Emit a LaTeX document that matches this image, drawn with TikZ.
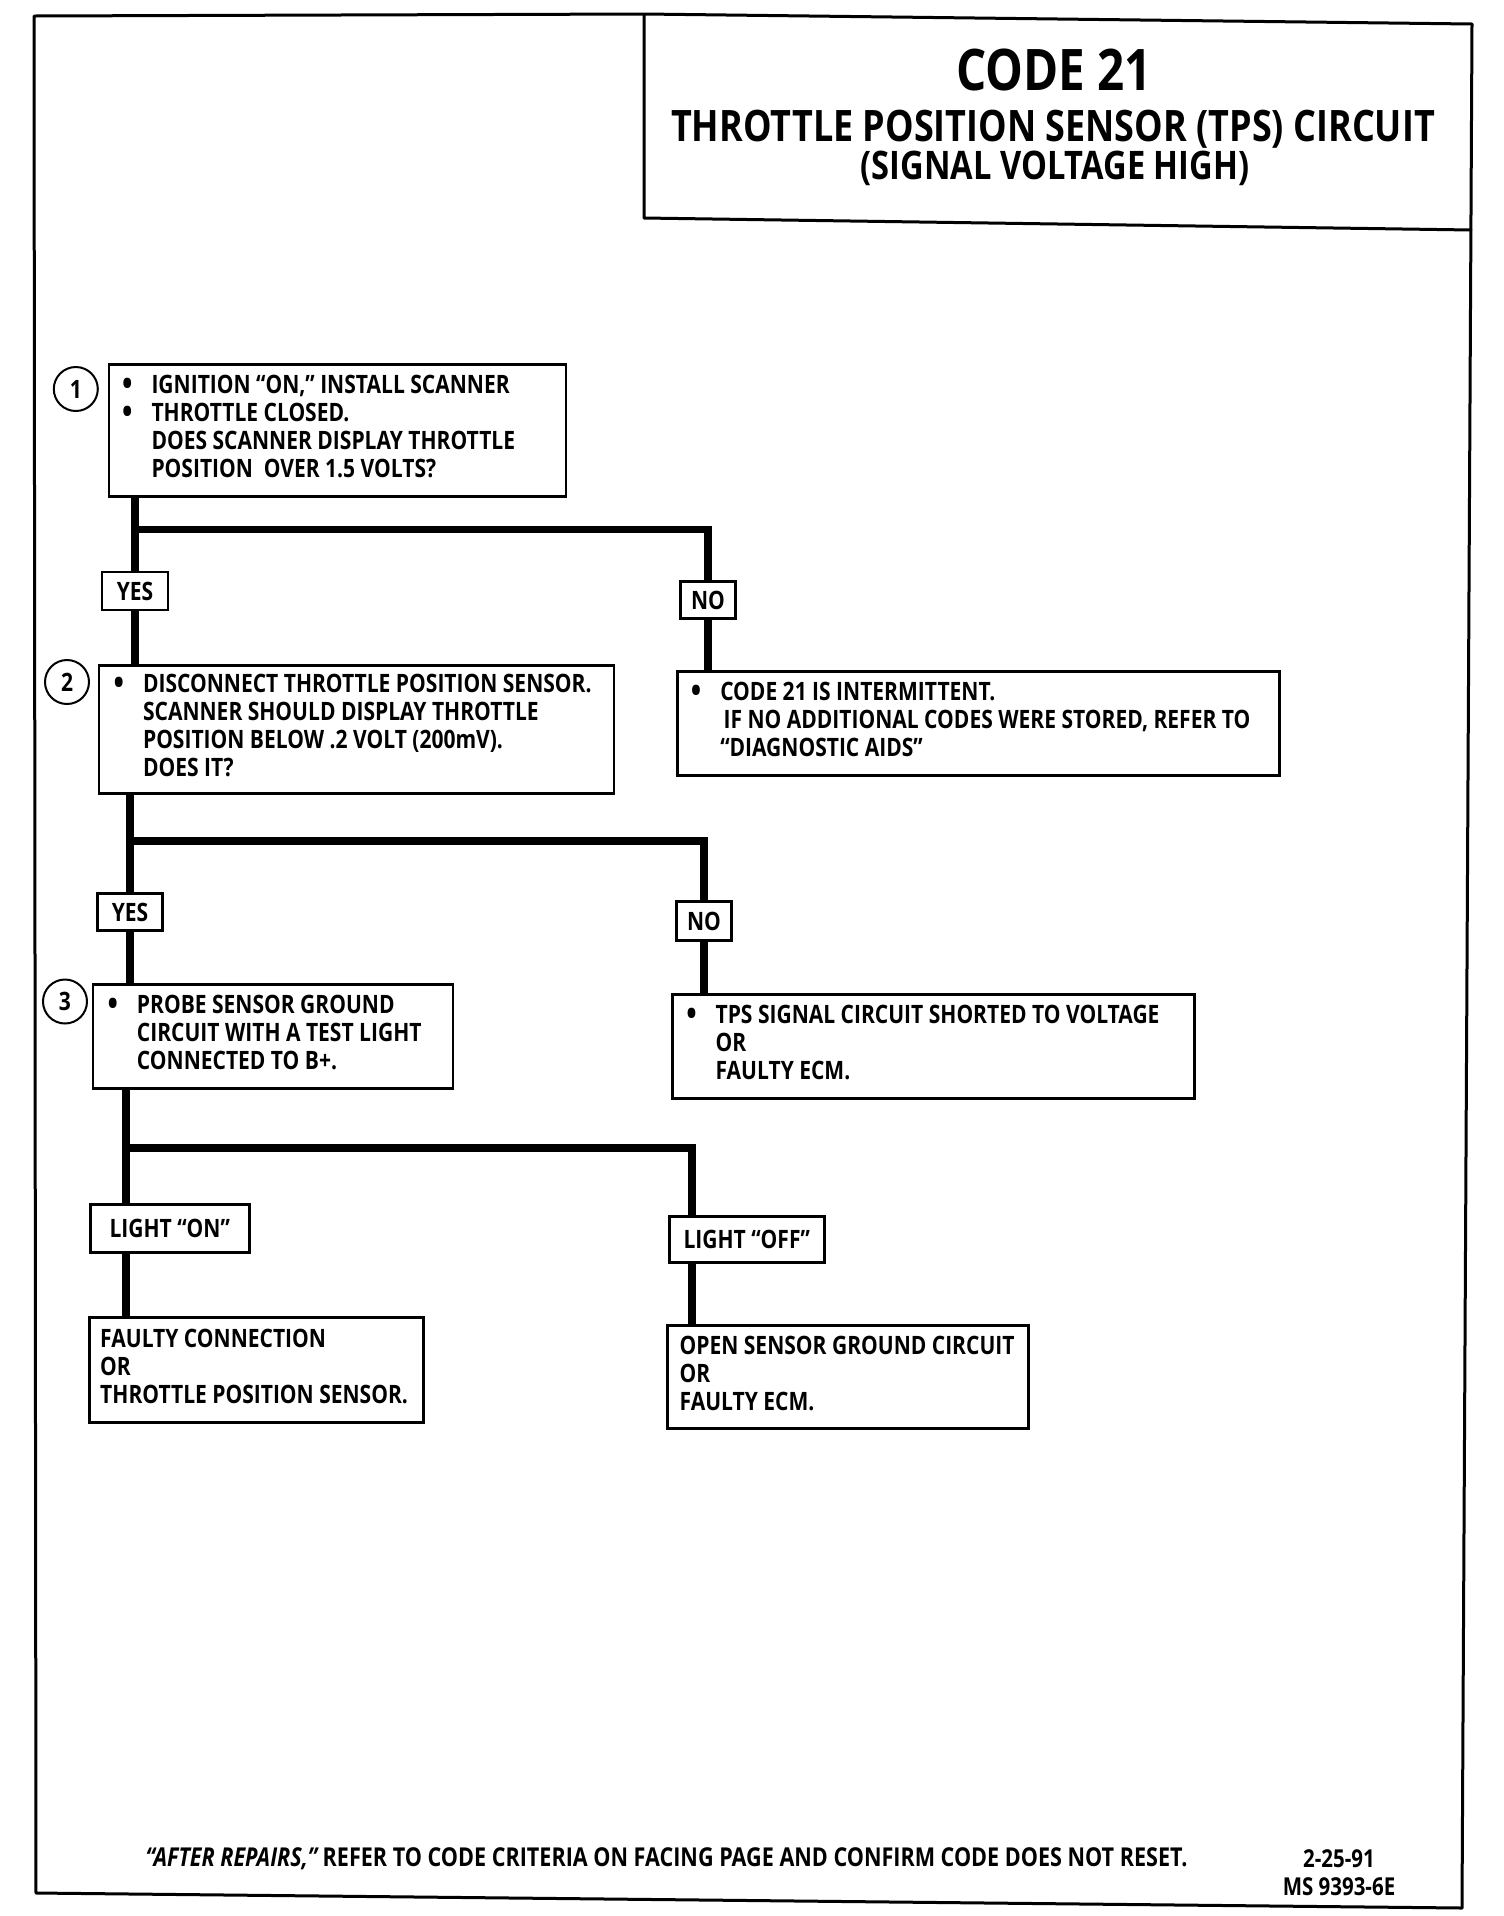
\documentclass[tikz,border=0pt]{standalone}
\usepackage{fontspec}
\setmainfont{Open Sans}[FakeStretch=0.83]
\newlength{\bulw}
\setlength{\bulw}{8.8pt}
\newcommand{\bul}{\makebox[\bulw][l]{\raisebox{-0.6pt}{\fontsize{10}{8}\selectfont\textbullet}}}
\newcommand{\ind}{\hspace*{\bulw}}
\newcommand{\boxtext}[2]{\makebox[#1][l]{\begin{tabular}{@{}l@{}}#2\end{tabular}}}
\newcommand{\boxfont}{\fontsize{7.6}{8.4}\selectfont\bfseries}
\newcommand{\footfont}{\fontsize{7.8}{8.4}\selectfont\bfseries}

\tikzset{
	frame/.style={line width=0.9pt, line join=round},
	stepbox/.style={draw, line width=0.75pt, anchor=north west, inner ysep=0pt, font=\boxfont},
	answer/.style={draw, line width=0.75pt, inner sep=0pt, font=\boxfont},
	stepnum/.style={circle, draw, line width=0.6pt, minimum size=13.2pt, inner sep=0pt, font=\boxfont},
	link/.style={line width=2.3pt},
}

\begin{document}
\begin{tikzpicture}[x=0.3pt, y=-0.3pt]
		\useasboundingbox (0,0) rectangle (1504,1916);
		\draw[frame] (34,16) -- (644,14) -- (1472,24) -- (1462,1908) -- (36,1893) -- cycle;
		\draw[frame] (644,14) -- (644,218) -- (1472,230);
		\node[inner sep=0pt, font=\fontsize{17.2}{18}\selectfont\bfseries] (code) at (1054,70) {CODE 21};
		\node[inner sep=0pt, font=\fontsize{13}{14}\selectfont\bfseries] (circuit) at (1053,129) {THROTTLE POSITION SENSOR (TPS) CIRCUIT};
		\node[inner sep=0pt, font=\fontsize{11.8}{13}\selectfont\bfseries] (signal) at (1055,168) {(SIGNAL VOLTAGE HIGH)};

		\node[stepbox, minimum width=137.1pt, minimum height=39.6pt, inner xsep=4pt] (ask1) at (107.6,363)
			{\boxtext{129.1pt}{\bul IGNITION “ON,” INSTALL SCANNER\\
			 \bul THROTTLE CLOSED.\\
			 \ind DOES SCANNER DISPLAY THROTTLE\\
			 \ind POSITION\ \ OVER 1.5 VOLTS?}};
		\node[stepnum] (step1) at (75.8,389) {1};

		\node[answer, minimum width=19.8pt, minimum height=11.4pt] (yes1) at (135,591) {YES};
		\node[answer, minimum width=16.5pt, minimum height=11.1pt] (no1) at (708,600) {NO};

		\node[stepbox, minimum width=154.5pt, minimum height=38.4pt, inner xsep=4.4pt] (ask2) at (97.8,664)
			{\boxtext{145.7pt}{\bul DISCONNECT THROTTLE POSITION SENSOR.\\
			 \ind SCANNER SHOULD DISPLAY THROTTLE\\
			 \ind POSITION BELOW .2 VOLT (200mV).\\
			 \ind DOES IT?}};
		\node[stepnum] (step2) at (67,682) {2};
		\node[stepbox, minimum width=180.6pt, minimum height=31.2pt, inner xsep=4.1pt] (intermittent) at (676,670)
			{\boxtext{172.4pt}{\bul CODE 21 IS INTERMITTENT.\\
			 \ind\hspace{1pt}IF NO ADDITIONAL CODES WERE STORED, REFER TO\\
			 \ind “DIAGNOSTIC AIDS”}};

		\node[answer, minimum width=19.5pt, minimum height=11.1pt] (yes2) at (130,912) {YES};
		\node[answer, minimum width=16.5pt, minimum height=11.7pt] (no2) at (704,921) {NO};

		\node[stepbox, minimum width=108pt, minimum height=31.2pt, inner xsep=4.4pt] (ask3) at (91.7,983)
			{\boxtext{99.2pt}{\bul PROBE SENSOR GROUND\\
			 \ind CIRCUIT WITH A TEST LIGHT\\
			 \ind CONNECTED TO B+.}};
		\node[stepnum] (step3) at (65,1001.5) {3};
		\node[stepbox, minimum width=156.6pt, minimum height=31.2pt, inner xsep=4.2pt] (shorted) at (671,993)
			{\boxtext{148.2pt}{\bul TPS SIGNAL CIRCUIT SHORTED TO VOLTAGE\\
			 \ind OR\\
			 \ind FAULTY ECM.}};

		\node[answer, anchor=north west, minimum width=47.7pt, minimum height=14.4pt] (lighton) at (89,1203) {LIGHT “ON”};
		\node[answer, anchor=north west, minimum width=46.5pt, minimum height=13.8pt] (lightoff) at (668,1215) {LIGHT “OFF”};

		\node[stepbox, minimum width=100.2pt, minimum height=31.5pt, inner xsep=3.3pt] (faultyconn) at (88,1316)
			{\boxtext{93.6pt}{FAULTY CONNECTION\\
			 OR\\
			 THROTTLE POSITION SENSOR.}};
		\node[stepbox, minimum width=108.3pt, minimum height=30.9pt, inner xsep=3.6pt] (opencircuit) at (666.4,1324)
			{\boxtext{101.1pt}{OPEN SENSOR GROUND CIRCUIT\\
			 OR\\
			 FAULTY ECM.}};

		\coordinate (j1) at (135,529.5);
		\coordinate (j2) at (130,841);
		\coordinate (j3) at (126,1148);
		\coordinate (k3) at (692,1148);

		\draw[link] (ask1.south -| yes1) -- (yes1.north);
		\draw[link] (yes1.south) -- (ask2.north -| yes1);
		\draw[link] (j1) -| (no1.north);
		\draw[link] (no1.south) -- (intermittent.north -| no1);

		\draw[link] (ask2.south -| yes2) -- (yes2.north);
		\draw[link] (yes2.south) -- (ask3.north -| yes2);
		\draw[link] (j2) -| (no2.north);
		\draw[link] (no2.south) -- (shorted.north -| no2);

		\draw[link] (ask3.south -| j3) -- (lighton.north -| j3);
		\draw[link] (lighton.south -| j3) -- (faultyconn.north -| j3);
		\draw[link] (j3) -- (k3) -- (lightoff.north -| k3);
		\draw[link] (lightoff.south -| k3) -- (opencircuit.north -| k3);

		\node[anchor=west, inner sep=0pt, font=\footfont] (repairs) at (145,1859) {{\itshape “AFTER REPAIRS,”} REFER TO CODE CRITERIA ON FACING PAGE AND CONFIRM CODE DOES NOT RESET.};
		\node[align=center, font=\fontsize{7.4}{8.4}\selectfont\bfseries] (docref) at (1339,1873) {2-25-91\\MS 9393-6E};
\end{tikzpicture}
\end{document}
